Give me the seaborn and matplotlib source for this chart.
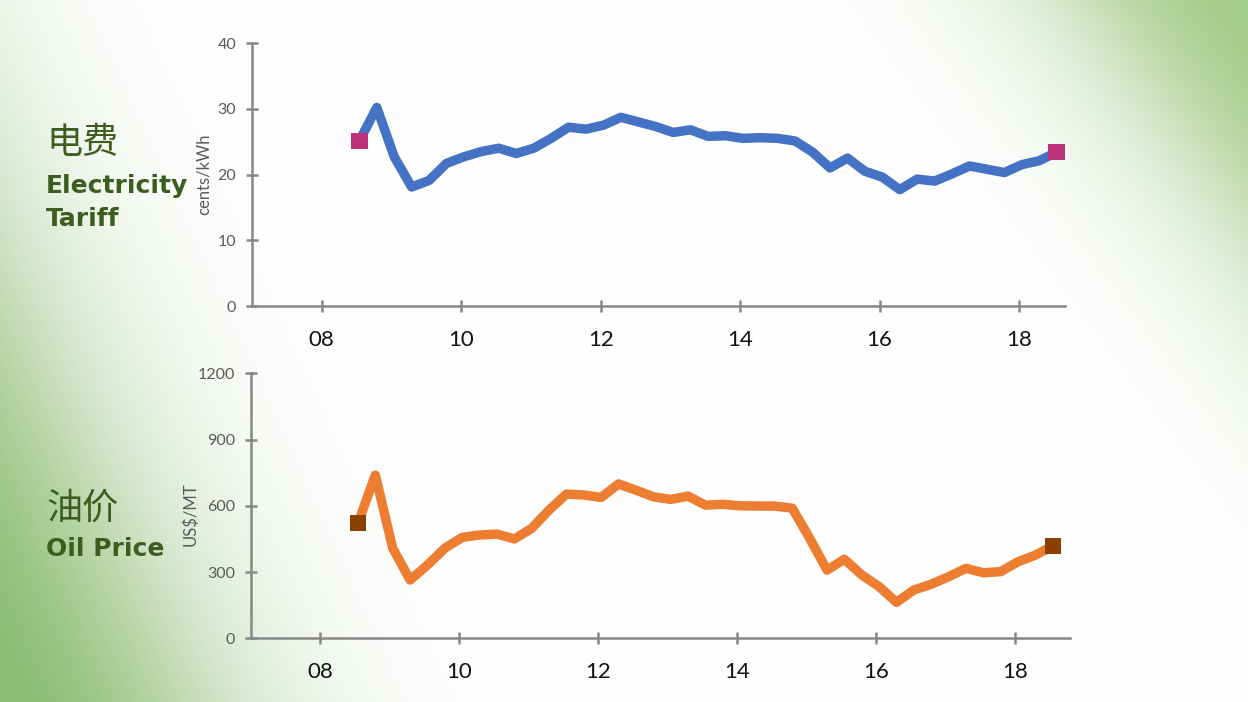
import numpy as np
import pandas as pd
import matplotlib
matplotlib.use("Agg")
import matplotlib.pyplot as plt
import seaborn as sns
from matplotlib.colors import to_rgb

# Quarterly series, 2008Q3 .. 2018Q3
quarters = pd.period_range("2008Q3", "2018Q3", freq="Q")
electricity = [25.1, 30.2, 22.7, 18.1, 19.1, 21.7, 22.7, 23.5, 24.0, 23.2,
               24.0, 25.5, 27.2, 26.9, 27.5, 28.7, 28.0, 27.3, 26.4, 26.8,
               25.8, 25.9, 25.5, 25.6, 25.5, 25.1, 23.4, 21.0, 22.5, 20.5,
               19.6, 17.7, 19.3, 19.0, 20.1, 21.3, 20.8, 20.3, 21.5, 22.1,
               23.4]
oil_price = [521, 739, 408, 264, 332, 408, 457, 468, 472, 450,
             498, 581, 653, 649, 638, 699, 671, 641, 629, 644,
             603, 607, 600, 599, 599, 589, 453, 309, 358, 287,
             234, 163, 219, 245, 279, 317, 297, 302, 347, 377,
             419]
year_ticks = [8, 10, 12, 14, 16, 18]
year_labels = ["08", "10", "12", "14", "16", "18"]
elec_ticks = [0, 10, 20, 30, 40]
oil_ticks = [0, 300, 600, 900, 1200]

sns.set_theme(style="white")
plt.rcParams['font.family'] = ['Lato', 'DejaVu Sans']

GRAY = "#878787"
TEXT_GREEN = "#3b5e1e"

x = quarters.year - 2000 + (quarters.quarter - 1) / 4 + 0.04


def make_background(fig):
    """Soft green corners (bottom-left, top-right) fading to white."""
    W, H = 1248, 702
    xx, yy = np.meshgrid(np.arange(W), np.arange(H))
    s_bl = 1.2 * xx + 0.55 * (H - yy)
    w_bl = np.exp(-(s_bl / 280) ** 2)
    s_tr = (W - xx) + 0.75 * yy
    w_tr = np.exp(-(s_tr / 210) ** 2)
    img = np.ones((H, W, 3))
    for w, col in ((w_bl, "#8cbc73"), (w_tr, "#a3cb89")):
        c = np.array(to_rgb(col))
        img = img * (1 - w[..., None]) + c * w[..., None]
    bg = fig.add_axes([0, 0, 1, 1], zorder=-1)
    bg.imshow(img, aspect="auto")
    bg.axis("off")


def draw_panel(ax, values, line_color, end_color, yticks, ylabel, xmax, label_xy):
    df = pd.DataFrame({"x": x, "y": values})
    sns.lineplot(data=df, x="x", y="y", ax=ax, color=line_color, linewidth=6.8)
    ends = df.iloc[[0, -1]]
    sns.scatterplot(data=ends, x="x", y="y", ax=ax, marker="s", s=140,
                    color=end_color, edgecolor="none", zorder=3, clip_on=False)

    ax.set_facecolor("none")
    ax.set_xlim(7.0, xmax)
    ax.set_ylim(yticks[0], yticks[-1])
    ax.set_xticks(year_ticks)
    ax.set_xticklabels(year_labels)
    ax.set_yticks(yticks)
    for side in ("top", "right"):
        ax.spines[side].set_visible(False)
    for side in ("left", "bottom"):
        ax.spines[side].set_color(GRAY)
        ax.spines[side].set_linewidth(1.8)
    ax.tick_params(axis="y", direction="inout", length=8.5, width=1.8, color=GRAY,
                   labelsize=11.5, labelcolor="#595959", pad=7, left=True)
    ax.tick_params(axis="x", direction="inout", length=8, width=1.8, color=GRAY,
                   labelsize=16, labelcolor="#111111", pad=13, bottom=True)
    ax.set_xlabel("")
    ax.set_ylabel(ylabel, fontsize=12, color="#595959")
    ax.yaxis.set_label_coords(*label_xy)
    ax.yaxis.label.set_va("center")
    ax.grid(False)


fig = plt.figure(figsize=(12.48, 7.02), dpi=100)
make_background(fig)

ax_top = fig.add_axes([0.2019, 0.5641, 0.6515, 0.3746])
draw_panel(ax_top, electricity, "#4472c4", "#bb3279", elec_ticks,
           "cents/kWh", 18.66, (-0.059, 0.5))

ax_bot = fig.add_axes([0.2011, 0.0907, 0.6559, 0.3775])
draw_panel(ax_bot, oil_price, "#ed7d31", "#8b4000", oil_ticks,
           "US$/MT", 18.78, (-0.0745, 0.47))

# Left-hand titles
cjk = ['Noto Sans CJK SC', 'DejaVu Sans']
fig.text(0.037, 0.796, "电费", family=cjk, fontsize=26, color=TEXT_GREEN, va="center")
fig.text(0.037, 0.735, "Electricity", family=['DejaVu Sans'], fontsize=18,
         fontweight="bold", color=TEXT_GREEN, va="center")
fig.text(0.037, 0.688, "Tariff", family=['DejaVu Sans'], fontsize=18,
         fontweight="bold", color=TEXT_GREEN, va="center")
fig.text(0.037, 0.276, "油价", family=cjk, fontsize=26, color=TEXT_GREEN, va="center")
fig.text(0.037, 0.218, "Oil Price", family=['DejaVu Sans'], fontsize=18,
         fontweight="bold", color=TEXT_GREEN, va="center")

fig.savefig("out.png", dpi=100)
plt.close(fig)
